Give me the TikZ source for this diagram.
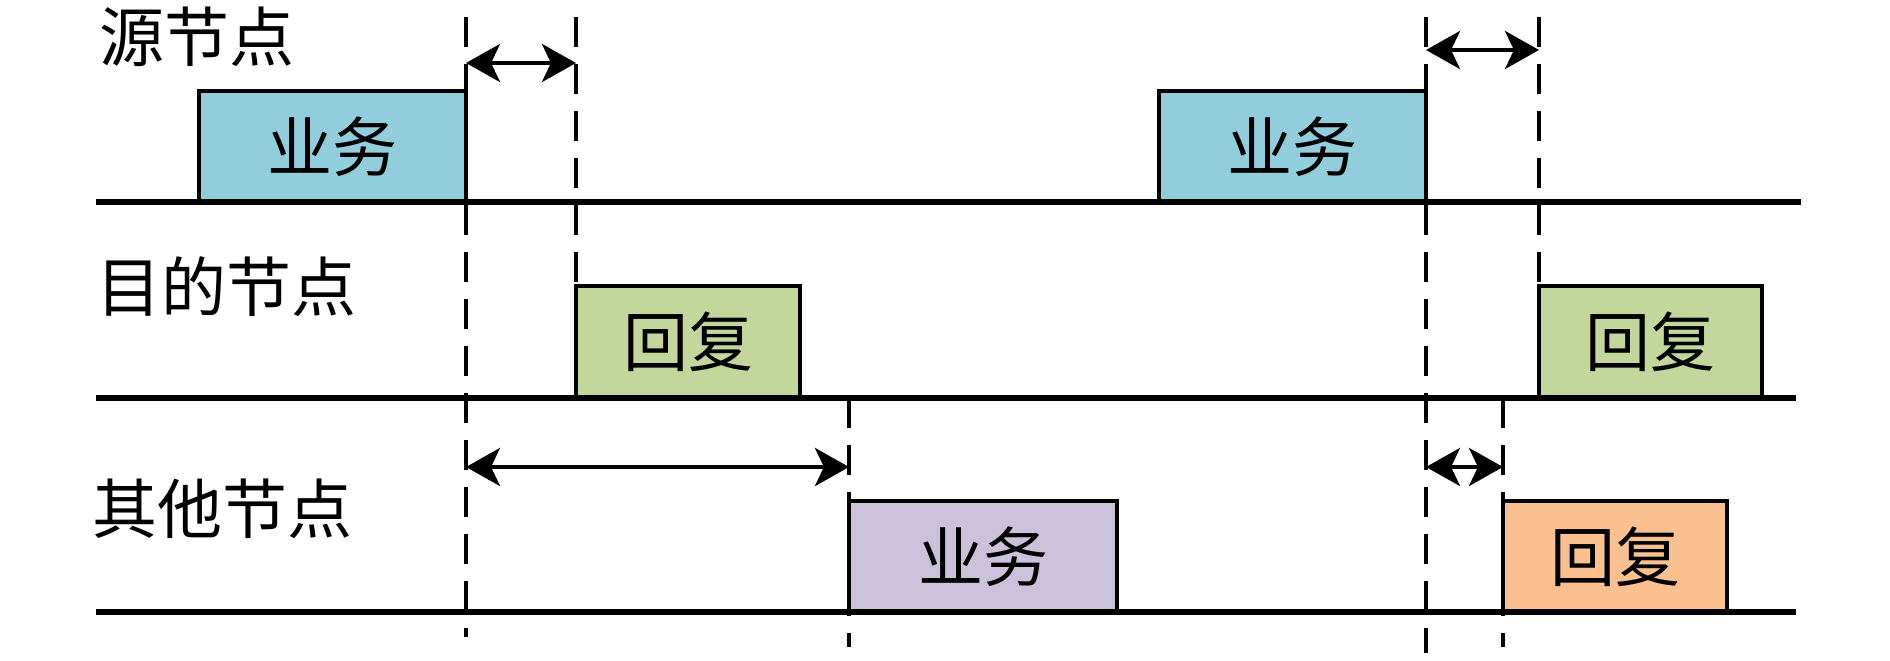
\documentclass[tikz,border=0pt]{standalone}
\usepackage{fontspec}
\newfontfamily\cjk{Noto Sans CJK SC}
\usetikzlibrary{arrows.meta}
\definecolor{cblue}{HTML}{92CDDC}
\definecolor{cgreen}{HTML}{C3D69B}
\definecolor{cpurple}{HTML}{CCC1DA}
\definecolor{corange}{HTML}{FAC090}
\tikzset{
  lane/.style={line width=5.5pt},
  msgbox/.style={draw=black, line width=4.5pt, rectangle, inner sep=0pt, outer sep=0pt, anchor=north west,
    font=\cjk\fontsize{65}{65}\selectfont},
  lanelabel/.style={inner sep=0pt, font=\cjk\fontsize{65}{65}\selectfont},
  guide/.style={line width=3.5pt, dash pattern=on 30pt off 17pt},
  gap/.style={line width=4.5pt, {Stealth[length=34pt,width=38pt,inset=9pt]}-{Stealth[length=34pt,width=38pt,inset=9pt]}}
}
\begin{document}
\begin{tikzpicture}[x=1pt,y=-1pt]
\useasboundingbox (0,0) rectangle (1890,661);
% lanes
\coordinate (l1s) at (96,202);  \coordinate (l1e) at (1801,202);
\coordinate (l2s) at (96,398);  \coordinate (l2e) at (1796,398);
\coordinate (l3s) at (96,612);  \coordinate (l3e) at (1796,612);
% labels
\node[lanelabel] (src) at (197,37) {源节点};
\node[lanelabel] (dst) at (226,287) {目的节点};
\node[lanelabel] (oth) at (222,509) {其他节点};
% boxes
\node[msgbox, fill=cblue, minimum width=267pt, minimum height=111pt] (b1) at (199,91) {\raisebox{4pt}{业务}};
\node[msgbox, fill=cblue, minimum width=267pt, minimum height=111pt] (b2) at (1159,91) {\raisebox{4pt}{业务}};
\node[msgbox, fill=cgreen, minimum width=224pt, minimum height=112pt] (g1) at (576,286) {\raisebox{4pt}{回复}};
\node[msgbox, fill=cgreen, minimum width=223pt, minimum height=112pt] (g2) at (1539,286) {\raisebox{4pt}{回复}};
\node[msgbox, fill=cpurple, minimum width=268pt, minimum height=111pt] (p1) at (849,501) {\raisebox{4pt}{业务}};
\node[msgbox, fill=corange, minimum width=224pt, minimum height=111pt] (o1) at (1503,501) {\raisebox{4pt}{回复}};
% lane lines
\draw[lane] (l1s) -- (l1e);
\draw[lane] (l2s) -- (l2e);
\draw[lane] (l3s) -- (l3e);
% guide lines
\coordinate (gA1) at (466,17);  \coordinate (gA2) at (466,637);
\coordinate (gB1) at (576,17);  \coordinate (gB2) at (576,286);
\coordinate (gC1) at (1426,17); \coordinate (gC2) at (1426,653);
\coordinate (gD1) at (1539,17); \coordinate (gD2) at (1539,286);
\coordinate (gE1) at (849,398); \coordinate (gE2) at (849,647);
\coordinate (gF1) at (1503,398); \coordinate (gF2) at (1503,647);
\draw[guide] (gA1) -- (gA2);
\draw[guide] (gB1) -- (gB2);
\draw[guide] (gC1) -- (gC2);
\draw[guide] (gD1) -- (gD2);
\draw[guide] (gE1) -- (gE2);
\draw[guide] (gF1) -- (gF2);
% gap arrows
\coordinate (a1l) at (466,63);  \coordinate (a1r) at (576,63);
\coordinate (a2l) at (1426,50); \coordinate (a2r) at (1539,50);
\coordinate (a3l) at (466,467); \coordinate (a3r) at (849,467);
\coordinate (a4l) at (1426,467); \coordinate (a4r) at (1503,467);
\draw[gap] (a1l) -- (a1r);
\draw[gap] (a2l) -- (a2r);
\draw[gap] (a3l) -- (a3r);
\draw[gap] (a4l) -- (a4r);
\end{tikzpicture}
\end{document}
